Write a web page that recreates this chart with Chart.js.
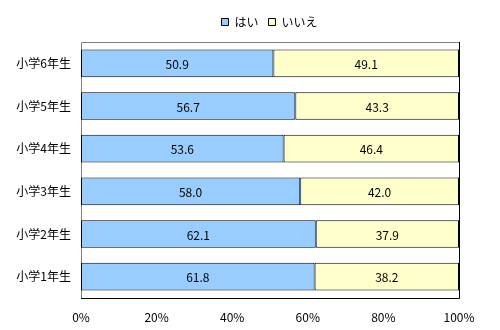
<!DOCTYPE html>
<html>
<head>
<meta charset="utf-8">
<script src="https://cdn.jsdelivr.net/npm/chart.js@4"></script>
<style>
  body { margin: 0; background: #fff; }
  #wrap { width: 500px; height: 330px; }
</style>
</head>
<body>
<div id="wrap"><canvas id="chart"></canvas></div>
<script>
const grades = ["小学6年生", "小学5年生", "小学4年生", "小学3年生", "小学2年生", "小学1年生"];
const yes_values = [50.9, 56.7, 53.6, 58.0, 62.1, 61.8];
const no_values = [49.1, 43.3, 46.4, 42.0, 37.9, 38.2];
const font_family = "'Noto Sans CJK JP', 'DejaVu Sans', sans-serif";

// value labels in the middle of each bar
const bar_labels = {
  id: "bar_labels",
  afterDatasetsDraw(chart) {
    const ctx = chart.ctx;
    ctx.save();
    ctx.font = "12px " + font_family;
    ctx.fillStyle = "#000";
    ctx.textAlign = "center";
    ctx.textBaseline = "middle";
    chart.data.datasets.forEach((ds, i) => {
      chart.getDatasetMeta(i).data.forEach((bar, j) => {
        const p = bar.getProps(["x", "y", "base"], true);
        ctx.fillText(ds.data[j].toFixed(1), (p.x + p.base) / 2, p.y + 1);
      });
    });
    ctx.restore();
  }
};

// plot area frame: gray left/top, black right/bottom
const frame = {
  id: "frame",
  beforeDatasetsDraw(chart) {
    const a = chart.chartArea;
    const ctx = chart.ctx;
    ctx.save();
    ctx.lineWidth = 1;
    ctx.strokeStyle = "#808080";
    ctx.beginPath();
    ctx.moveTo(Math.round(a.left) + 0.5, Math.round(a.bottom));
    ctx.lineTo(Math.round(a.left) + 0.5, Math.round(a.top) + 0.5);
    ctx.lineTo(Math.round(a.right), Math.round(a.top) + 0.5);
    ctx.stroke();
    ctx.strokeStyle = "#000";
    ctx.beginPath();
    ctx.moveTo(Math.round(a.right) + 0.5, Math.round(a.top));
    ctx.lineTo(Math.round(a.right) + 0.5, Math.round(a.bottom) + 0.5);
    ctx.lineTo(Math.round(a.left), Math.round(a.bottom) + 0.5);
    ctx.stroke();
    ctx.restore();
  }
};

// legend sits centred over the whole canvas, not over the padded box
const legend_shift = {
  id: "legend_shift",
  afterLayout(chart) {
    chart.legend.left += 40;
    chart.legend.right += 40;
  }
};

new Chart(document.getElementById("chart"), {
  type: "bar",
  data: {
    labels: grades,
    datasets: [
      { label: "はい", data: yes_values, backgroundColor: "#99CCFF", borderColor: "#000", borderWidth: 1, borderSkipped: false },
      { label: "いいえ", data: no_values, backgroundColor: "#FFFFCC", borderColor: "#000", borderWidth: 1, borderSkipped: false }
    ]
  },
  options: {
    indexAxis: "y",
    responsive: true,
    maintainAspectRatio: false,
    animation: false,
    barPercentage: 0.65,
    categoryPercentage: 1,
    layout: { padding: { top: 6, right: 41, left: 0, bottom: 0 } },
    scales: {
      x: {
        stacked: true,
        min: 0,
        max: 100,
        grid: { display: false, drawTicks: false },
        border: { display: false },
        ticks: { stepSize: 20, padding: 12, color: "#000", font: { family: font_family, size: 12 }, callback: v => v + "%" },
        afterFit(s) { s.height = 32; }
      },
      // empty strip between legend and plot area
      spacer: {
        type: "linear",
        axis: "x",
        position: "top",
        grid: { display: false, drawTicks: false },
        border: { display: false },
        ticks: { display: false },
        afterFit(s) { s.height = 4; }
      },
      y: {
        stacked: true,
        grid: { display: false, drawTicks: false },
        border: { display: false },
        ticks: { padding: 10, color: "#000", font: { family: font_family, size: 12 } },
        afterFit(s) { s.width = 81; }
      }
    },
    plugins: {
      legend: {
        position: "top",
        labels: { boxWidth: 7, boxHeight: 7, padding: 10, color: "#000", font: { family: font_family, size: 12 } }
      },
      tooltip: { enabled: false }
    }
  },
  plugins: [bar_labels, frame, legend_shift]
});
</script>
</body>
</html>
